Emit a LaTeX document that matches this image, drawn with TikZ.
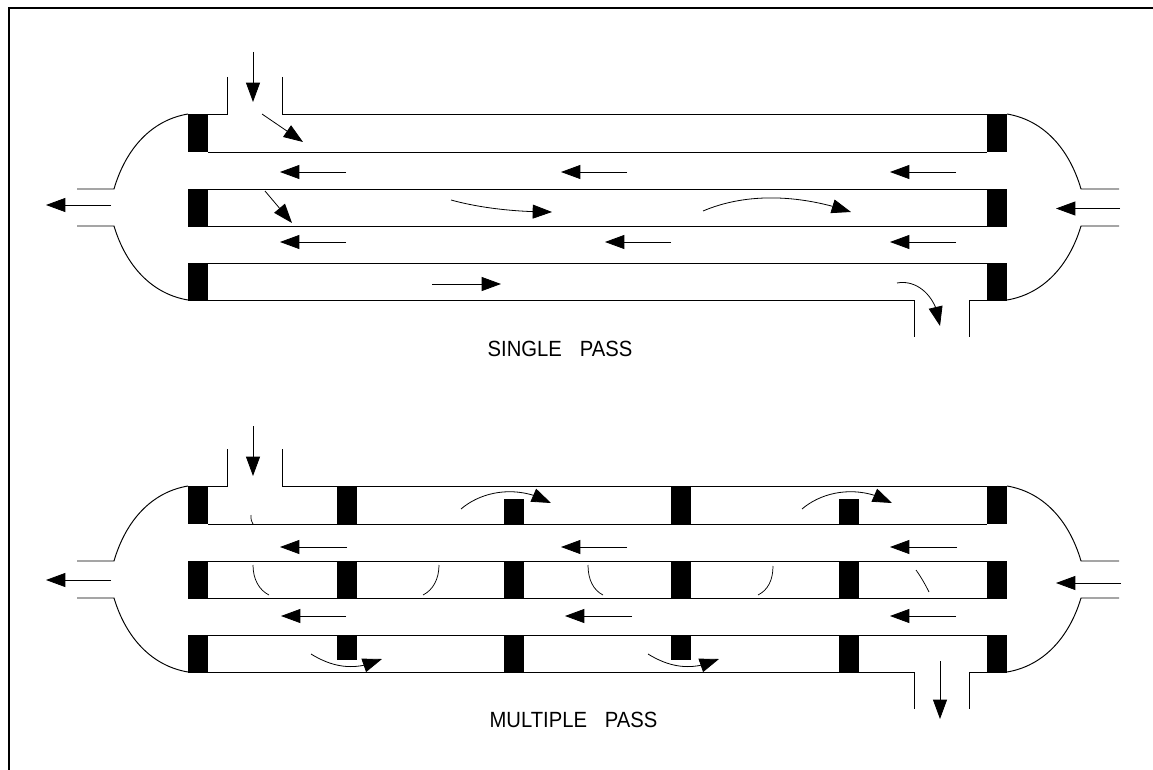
\documentclass[tikz,border=0pt]{standalone}
\usepackage{fontspec}
\usepackage{graphicx}
\setmainfont{Liberation Sans}
\usetikzlibrary{arrows.meta,bending}
\tikzset{
  wall/.style={line width=0.72pt,black},
  frameline/.style={line width=1.6pt,black},
  flow/.style={line width=0.6pt,black,-{Triangle[length=14.5pt,width=10.5pt]}},
  eddy/.style={line width=0.55pt,black},
  baffle/.style={fill=black,draw=none},
  caption/.style={inner sep=0pt,font=\fontsize{16.5}{17}\selectfont}
}
\newcommand{\tubes}[1]{%
 \begin{scope}[yshift=#1*-0.75pt]
  % left head and nozzle
  \draw[wall] (188,114) .. controls (152,120) and (126,148) .. (114,189) -- (77,189);
  \draw[wall] (188,300) .. controls (152,294) and (126,266) .. (114,226) -- (77,226);
  % right head and nozzle
  \draw[wall] (1007,114) .. controls (1043,120) and (1069,148) .. (1081,189) -- (1119,189);
  \draw[wall] (1007,300) .. controls (1043,294) and (1069,266) .. (1081,226) -- (1119,226);
  % tube walls
  \draw[wall] (227,77) -- (227,114) -- (208,114);
  \draw[wall] (282,77) -- (282,114) -- (987,114);
  \foreach \yy in {152,189,226,263} \draw[wall] (208,\yy) -- (987,\yy);
  \draw[wall] (208,300) -- (914,300) -- (914,337);
  \draw[wall] (987,300) -- (969,300) -- (969,337);
  % end baffles
  \foreach \xx in {188,987} \foreach \yy in {114,189,263}
    \fill[baffle] (\xx,\yy) rectangle +(20,38);
 \end{scope}}
\begin{document}
\begin{tikzpicture}[x=0.75pt,y=-0.75pt]
\useasboundingbox (0,0) rectangle (1153,770);
\fill[white] (0,0) rectangle (1153,770);
\draw[frameline] (8.7,770) -- (8.7,8) -- (1153,8);

% ---------- single pass ----------
\tubes{0}
\draw[flow] (253,52) -- (253,102);
\draw[flow] (262,114) -- (303,142);
\draw[flow] (265,191) -- (292,223);
\draw[flow] (111,205) -- (46,205);
\draw[flow] (1120,208.5) -- (1056,208.5);
\foreach \xa/\xb/\yy in {346/280/172,627/561/172,956/890/172,346/280/242,671/605/242,956/890/242}
  \draw[flow] (\xa,\yy) -- (\xb,\yy);
\draw[flow] (451,200) .. controls (480,208) and (515,212) .. (552,212);
\draw[flow] (703,211) .. controls (750,191) and (805,196) .. (851,212);
\draw[flow] (432,284) -- (501,284);
\draw[flow] (897,283) .. controls (918,279) and (938,298) .. (940,326);
\node[caption,anchor=center] (single) at (560,349) {\scalebox{0.92}[1]{SINGLE\hspace{14.6pt}PASS}};

% ---------- multiple pass ----------
\tubes{372}
\foreach \xx in {337,671} {
  \fill[baffle] (\xx,486) rectangle +(20,38);
  \fill[baffle] (\xx,635) rectangle +(20,24.5);
}
\foreach \xx in {504,839} {
  \fill[baffle] (\xx,499) rectangle +(20,25);
  \fill[baffle] (\xx,635) rectangle +(20,38);
}
\foreach \xx in {337,504,671,839}
  \fill[baffle] (\xx,561) rectangle +(20,38);
\draw[flow] (253,426) -- (253,476);
\draw[flow] (940,661) -- (940,719);
\draw[flow] (111,580) -- (46,580);
\draw[flow] (1121,583) -- (1056,583);
\foreach \xa/\xb/\yy in {347/280/547,627/561/547,957/890/547,346/281/616,632/565/616,956/890/616}
  \draw[flow] (\xa,\yy) -- (\xb,\yy);
\foreach \dx in {0,341}
  \draw[flow] (461+\dx,509) .. controls (482+\dx,491) and (518+\dx,484) .. (551+\dx,503);
\foreach \dx in {0,337}
  \draw[flow] (311+\dx,654) .. controls (332+\dx,667) and (355+\dx,672) .. (382+\dx,659);
\draw[eddy] (251,515) .. controls (251,519) and (251,522) .. (253,524);
\draw[eddy] (253,565) .. controls (253,579) and (259,590) .. (269,595);
\draw[eddy] (439,565) .. controls (439,579) and (433,590) .. (423,595);
\draw[eddy] (588,565) .. controls (588,579) and (593,590) .. (603,595);
\draw[eddy] (773,566) .. controls (773,580) and (768,590) .. (758,595);
\draw[eddy] (916,570) .. controls (921,577) and (925,584) .. (929,592);
\node[caption,anchor=center] (multiple) at (573.5,720) {\scalebox{0.92}[1]{MULTIPLE\hspace{14.6pt}PASS}};
\end{tikzpicture}
\end{document}
